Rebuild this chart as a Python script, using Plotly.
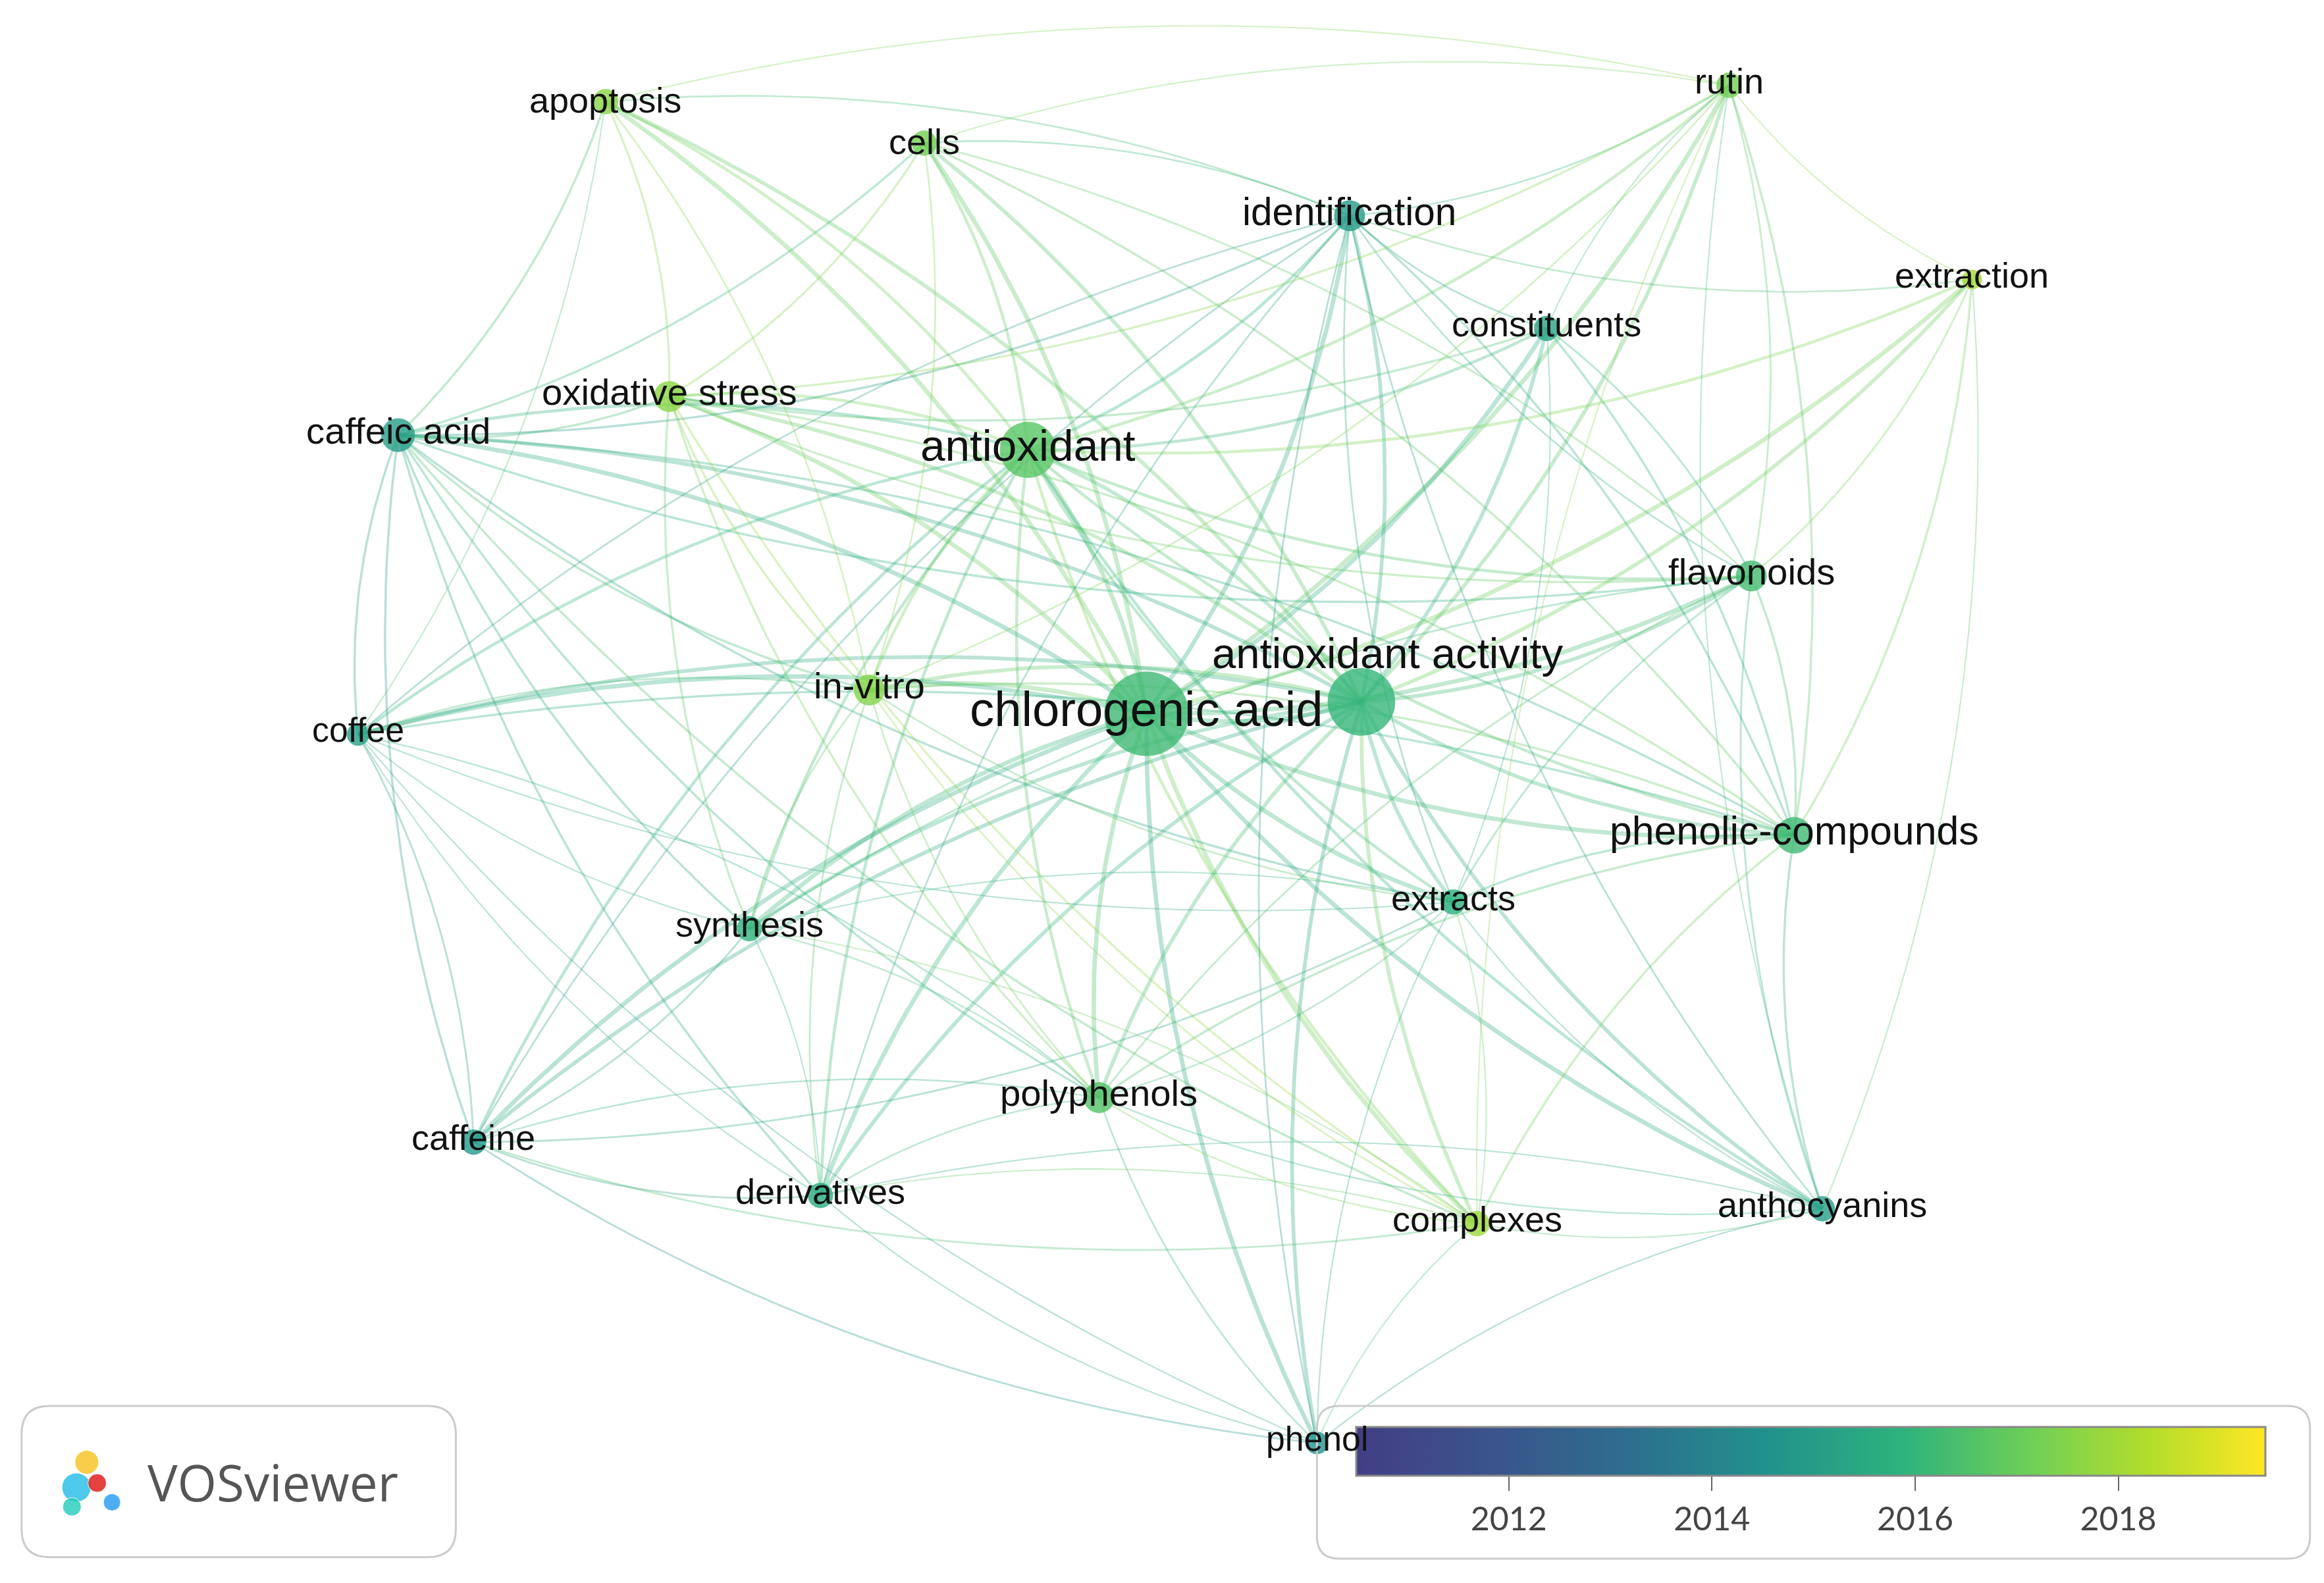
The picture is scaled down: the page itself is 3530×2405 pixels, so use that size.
import plotly.graph_objects as go
import numpy as np
from plotly.colors import sample_colorscale

# ---- data ----
labels = ["apoptosis","cells","identification","rutin","extraction","constituents",
          "oxidative stress","caffeic acid","antioxidant","flavonoids","antioxidant activity",
          "chlorogenic acid","in-vitro","coffee","phenolic-compounds","extracts","synthesis",
          "polyphenols","caffeine","derivatives","complexes","anthocyanins","phenol"]
node_x = [405,620,907,1163,1327,1040,448,265,690,1178,915,770,583,238,1207,977,502,738,316,550,993,1226,885]
node_y = [65,93,142,54,185,218,264,290,300,385,470,478,462,492,560,605,623,737,767,803,822,812,970]
avg_year = [2017.6,2017.2,2014.9,2017.2,2018.0,2015.3,2017.6,2015.0,2016.7,2016.3,2016.0,2016.2,2017.5,2015.1,2016.2,2015.8,2015.9,2016.6,2014.8,2015.6,2017.9,2015.0,2014.6]
occurrences = [18,18,22,18,14,18,22,24,40,22,48,60,22,16,26,18,18,22,18,18,18,18,16]
label_dx = [0,0,0,0,0,0,0,0,0,0,18,0,0,0,0,0,0,0,0,0,0,0,0]
label_dy = [-1,-1,-3,-3,-3,-3,-3,-3,-3,-3,-33,-3,-3,-3,-3,-3,-3,-3,-3,-3,-3,-3,-3]
label_size = [24,24,26,24,24,24,25,25,30,25,29,33,25,23,27,24,24,25,24,24,24,24,23]

edge_a = []
edge_b = []
edge_w = []
hub_pairs = {
 "chlorogenic acid": (labels, 3.5),
 "antioxidant activity": (["apoptosis","cells","identification","rutin","extraction","constituents","oxidative stress","caffeic acid","antioxidant","flavonoids","in-vitro","coffee","phenolic-compounds","extracts","synthesis","polyphenols","caffeine","derivatives","complexes","anthocyanins","phenol"], 3),
 "antioxidant": (["apoptosis","cells","identification","rutin","extraction","constituents","oxidative stress","caffeic acid","flavonoids","in-vitro","coffee","phenolic-compounds","extracts","synthesis","polyphenols","caffeine","derivatives","complexes","anthocyanins"], 2.4),
 "phenolic-compounds": (["rutin","extraction","constituents","caffeic acid","flavonoids","in-vitro","coffee","extracts","polyphenols","complexes","anthocyanins","identification","cells","oxidative stress"], 1.8),
 "caffeic acid": (["apoptosis","cells","oxidative stress","coffee","in-vitro","synthesis","caffeine","derivatives","polyphenols","identification","flavonoids","extracts","complexes"], 1.8),
 "identification": (["rutin","constituents","extraction","flavonoids","extracts","coffee","caffeine","derivatives","anthocyanins","phenol","cells","apoptosis"], 1.4),
 "oxidative stress": (["apoptosis","cells","in-vitro","polyphenols","flavonoids","rutin","constituents","complexes","synthesis"], 1.7),
 "in-vitro": (["apoptosis","cells","coffee","synthesis","polyphenols","derivatives","complexes","extracts","rutin"], 1.4),
 "flavonoids": (["rutin","extraction","constituents","extracts","polyphenols","anthocyanins","cells","synthesis"], 1.5),
 "polyphenols": (["coffee","caffeine","derivatives","complexes","phenol","extracts","synthesis","anthocyanins"], 1.3),
 "caffeine": (["coffee","derivatives","synthesis","complexes","phenol","extracts"], 1.5),
 "coffee": (["derivatives","synthesis","extracts","phenol","apoptosis"], 1.1),
 "rutin": (["extraction","constituents","cells","apoptosis","complexes","anthocyanins"], 1.1),
 "complexes": (["derivatives","synthesis","anthocyanins","phenol","extracts"], 1.1),
 "extracts": (["constituents","anthocyanins","phenol","synthesis"], 1.1),
 "anthocyanins": (["phenol","derivatives","extraction"], 1.1),
 "derivatives": (["synthesis","phenol"], 1.1),
}
for h, (others, w) in hub_pairs.items():
    for o in others:
        if o != h:
            edge_a.append(h); edge_b.append(o); edge_w.append(w)

# ---- figure ----
cmin, cmax = 2010.5, 2019.45
cscale = [[0, "#433e85"], [0.15, "#3a548c"], [0.3, "#2e6e8e"], [0.45, "#21918c"],
          [0.6, "#2db27d"], [0.75, "#73d055"], [0.88, "#b8de29"], [1, "#fde725"]]
idx = {n: i for i, n in enumerate(labels)}
def col(y, a):
    c = sample_colorscale(cscale, [(y - cmin) / (cmax - cmin)])[0]
    if c.startswith("#"):
        r, g, b = int(c[1:3], 16), int(c[3:5], 16), int(c[5:7], 16)
    else:
        r, g, b = [int(float(v)) for v in c[c.find("(")+1:-1].split(",")]
    return f"rgba({r},{g},{b},{a})"

S = 2.25
fig = go.Figure()
t = np.linspace(0, 1, 30)
for a, b, w in zip(edge_a, edge_b, edge_w):
    i, j = idx[a], idx[b]
    x0, y0, x1, y1 = node_x[i], node_y[i], node_x[j], node_y[j]
    dx, dy = x1 - x0, y1 - y0
    cx = (x0 + x1) / 2 - dy * 0.12
    cy = (y0 + y1) / 2 + dx * 0.12
    bx = (1-t)**2*x0 + 2*(1-t)*t*cx + t**2*x1
    by = (1-t)**2*y0 + 2*(1-t)*t*cy + t**2*y1
    yr = (avg_year[i] + avg_year[j]) / 2
    fig.add_trace(go.Scatter(x=bx, y=by, mode="lines", hoverinfo="skip", showlegend=False,
                             line=dict(color=col(yr, 0.32), width=w * 1.9)))

fig.add_trace(go.Scatter(
    x=node_x, y=node_y, mode="markers", showlegend=False,
    marker=dict(size=[o * S * 0.95 for o in occurrences], color=avg_year, colorscale=cscale,
                cmin=cmin, cmax=cmax, opacity=0.8, line=dict(width=0),
                colorbar=dict(orientation="h", x=0.777, xanchor="center", y=0.106, yanchor="top",
                              len=0.397, lenmode="fraction", thickness=74, outlinecolor="#888",
                              outlinewidth=3, tickvals=[2012, 2014, 2016, 2018], ticks="outside",
                              ticklen=22, tickwidth=2, tickcolor="#666",
                              tickfont=dict(size=50, family="Lato", color="#444")))))
for i, n in enumerate(labels):
    fig.add_annotation(x=node_x[i] + label_dx[i], y=node_y[i] + label_dy[i], text=n, showarrow=False,
                       font=dict(size=label_size[i] * S, family="Arial, Liberation Sans", color="#111"),
                       bgcolor="rgba(0,0,0,0)")

# boxes
fig.add_shape(type="path", xref="x", yref="y", layer="above",
              path="M 900 945 L 1540 945 Q 1555 945 1555 960 L 1555 1033 Q 1555 1048 1540 1048 L 900 1048 Q 885 1048 885 1033 L 885 960 Q 885 945 900 945 Z",
              line=dict(color="#ccc", width=3), fillcolor="rgba(0,0,0,0)")
fig.add_shape(type="path", xref="x", yref="y", layer="below",
              path="M 30 945 L 285 945 Q 304 945 304 964 L 304 1028 Q 304 1047 285 1047 L 30 1047 Q 11 1047 11 1028 L 11 964 Q 11 945 30 945 Z",
              line=dict(color="#ccc", width=3), fillcolor="white")
fig.add_trace(go.Scatter(x=[48, 55, 62, 45, 72], y=[1000, 983, 997, 1013, 1010], mode="markers",
                         hoverinfo="skip", showlegend=False,
                         marker=dict(size=[44, 36, 28, 28, 26], color=["#2fc0e8", "#f7c62a", "#e02020", "#2fd0c0", "#30a0f0"],
                                     opacity=0.85)))
fig.add_annotation(x=95, y=996, text="VOSviewer", showarrow=False, xanchor="left",
                   font=dict(size=34 * S, family="Open Sans", color="#555"))

fig.update_xaxes(range=[0, 1568], visible=False, fixedrange=True)
fig.update_yaxes(range=[1068, 0], visible=False, fixedrange=True)
fig.update_layout(width=3530, height=2405, margin=dict(l=0, r=0, t=0, b=0),
                  plot_bgcolor="white", paper_bgcolor="white")
fig.write_html("out.html")
